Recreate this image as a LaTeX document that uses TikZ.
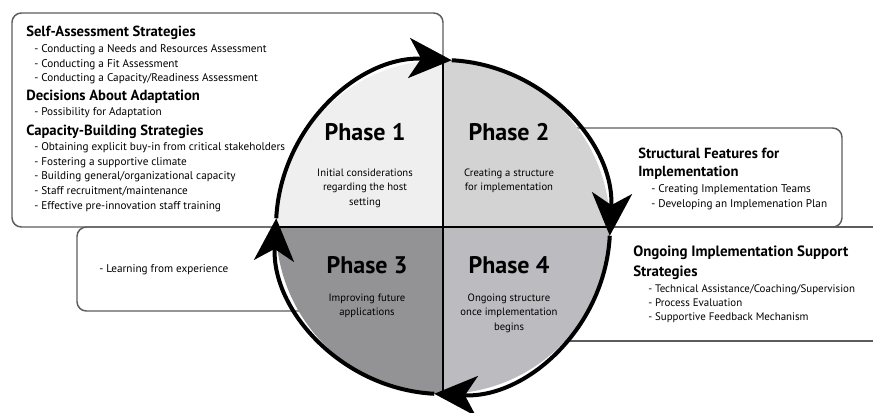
\documentclass[tikz,border=0pt]{standalone}
\usepackage{fontspec}
\setmainfont{PT Sans}
\usepackage{tikz}
\usetikzlibrary{arrows.meta}
\definecolor{boxgray}{HTML}{5C5C5C}
\definecolor{phaseA}{HTML}{EFEFEF}
\definecolor{phaseB}{HTML}{D3D3D3}
\definecolor{phaseC}{HTML}{939395}
\definecolor{phaseD}{HTML}{BCBCC0}

\begin{document}
\begin{tikzpicture}[x=0.75pt,y=0.75pt,yscale=-1,xscale=1,
  box/.style={draw=boxgray, line width=1.1pt, rounded corners=7pt},
  head/.style={anchor=west, inner sep=0.75pt, align=left, font=\bfseries\fontsize{11}{13.5}\selectfont},
  items/.style={anchor=west, inner sep=0.75pt, align=left, font=\fontsize{8.4}{11}\selectfont},
  phase/.style={inner sep=0.75pt, font=\bfseries\fontsize{18}{20}\selectfont},
  desc/.style={inner sep=0.75pt, align=center, font=\fontsize{8}{10.8}\selectfont},
  ring/.style={line width=3pt, -{Stealth[length=32pt,width=30pt,inset=9pt]}}]
\useasboundingbox (0,0) rectangle (873,412);

%Shape: boxes behind the circle
\draw[box] (12,13) rectangle (443,227);
\draw[box] (443,128) rectangle (842,227);
\draw[box] (77,227) rectangle (443,311);
\draw[draw=boxgray, line width=1.1pt] (873,227) -- (443,227) -- (443,341) -- (873,341);

%Shape: quadrants
\coordinate (c) at (443,227);
\fill[phaseA] (c) -- ++(180:167) arc[start angle=180, end angle=270, radius=167] -- cycle;
\fill[phaseB] (c) -- ++(270:167) arc[start angle=270, end angle=360, radius=167] -- cycle;
\fill[phaseD] (c) -- ++(0:167) arc[start angle=0, end angle=90, radius=167] -- cycle;
\fill[phaseC] (c) -- ++(90:167) arc[start angle=90, end angle=180, radius=167] -- cycle;
\draw[line width=0.9pt] (c) ++(270:167) -- ++(0,334);
\draw[line width=0.9pt] (c) ++(180:167) -- ++(334,0);

%Shape: ring with arrows
\draw[ring] (c) ++(183:167) arc[start angle=183, end angle=273, radius=167];
\draw[ring] (c) ++(273:167) arc[start angle=273, end angle=363, radius=167];
\draw[ring] (c) ++(3:167) arc[start angle=3, end angle=93, radius=167];
\draw[ring] (c) ++(93:167) arc[start angle=93, end angle=183, radius=167];

% Text Node
\draw (25,33) node (selfhead) [head] {Self-Assessment Strategies};
% Text Node
\draw (33,64.5) node (selfitems) [items] {- Conducting a Needs and Resources Assessment\\- Conducting a Fit Assessment\\- Conducting a Capacity/Readiness Assessment};
% Text Node
\draw (25,97) node (adapthead) [head] {Decisions About Adaptation};
% Text Node
\draw (33,113) node (adaptitems) [items] {- Possibility for Adaptation};
% Text Node
\draw (25,132) node (caphead) [head] {Capacity-Building Strategies};
% Text Node
\draw (33,177) node (capitems) [items] {- Obtaining explicit buy-in from critical stakeholders\\- Fostering a supportive climate\\- Building general/organizational capacity\\- Staff recruitment/maintenance\\- Effective pre-innovation staff training};

% Text Node
\draw (637,164) node (structhead) [head] {Structural Features for\\Implementation};
% Text Node
\draw (650,197.5) node (structitems) [items] {- Creating Implementation Teams\\- Developing an Implemenation Plan};
% Text Node
\draw (632,263) node (ongohead) [head, font=\bfseries\fontsize{11.2}{15}\selectfont] {Ongoing Implementation Support\\Strategies};
% Text Node
\draw (647,304) node (ongoitems) [items, font=\fontsize{8.2}{10.5}\selectfont] {- Technical Assistance/Coaching/Supervision\\- Process Evaluation\\- Supportive Feedback Mechanism};
% Text Node
\draw (98,270) node (learnitems) [items] {- Learning from experience};

% Text Node
\draw (365,132) node (ph1) [phase] {Phase 1};
\draw (365,188) node (ph1desc) [desc] {Initial considerations\\regarding the host\\setting};
% Text Node
\draw (509,132) node (ph2) [phase] {Phase 2};
\draw (509,180.5) node (ph2desc) [desc] {Creating a structure\\for implementation};
% Text Node
\draw (367,265) node (ph3) [phase] {Phase 3};
\draw (367,305.5) node (ph3desc) [desc] {Improving future\\applications};
% Text Node
\draw (509,265) node (ph4) [phase] {Phase 4};
\draw (509,313) node (ph4desc) [desc] {Ongoing structure\\once implementation\\begins};

\end{tikzpicture}
\end{document}
